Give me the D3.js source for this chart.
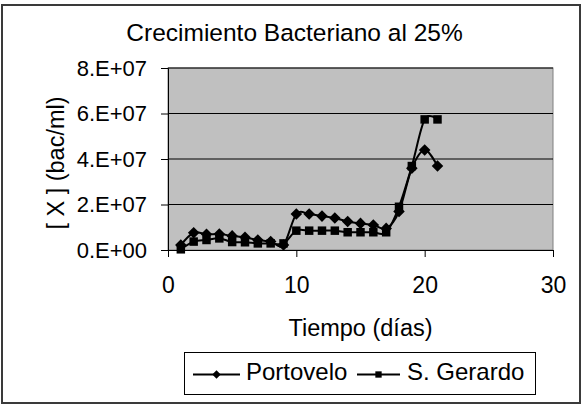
<!DOCTYPE html>
<html>
<head>
<meta charset="utf-8">
<script src="https://cdn.jsdelivr.net/npm/d3@7"></script>
<style>
  body { margin: 0; background: #fff; }
  svg { display: block; font-family: "Liberation Sans", Arial, sans-serif; }
</style>
</head>
<body>
<svg id="chart" width="582" height="405"></svg>
<script>
const days = [1,2,3,4,5,6,7,8,9,10,11,12,13,14,15,16,17,18,19,20,21];
const portovelo = [0.22e7,0.76e7,0.69e7,0.70e7,0.62e7,0.56e7,0.44e7,0.37e7,0.22e7,1.58e7,1.58e7,1.49e7,1.41e7,1.25e7,1.17e7,1.10e7,0.95e7,1.69e7,3.59e7,4.40e7,3.69e7];
const gerardo = [0.03e7,0.37e7,0.44e7,0.51e7,0.35e7,0.34e7,0.29e7,0.29e7,0.29e7,0.85e7,0.85e7,0.85e7,0.85e7,0.78e7,0.78e7,0.78e7,0.78e7,1.90e7,3.69e7,5.74e7,5.74e7];
const xTicks = [0,10,20,30];
const yTicks = [0,2e7,4e7,6e7,8e7];
const yTickLabels = ["0.E+00","2.E+07","4.E+07","6.E+07","8.E+07"];
const seriesNames = ["Portovelo","S. Gerardo"];
const title = "Crecimiento Bacteriano al 25%";
const xTitle = "Tiempo (días)";
const yTitle = "[ X ] (bac/ml)";

const svg = d3.select("#chart");
const L = 168, R = 553, T = 68, B = 250;
const x = d3.scaleLinear().domain([0,30]).range([L,R]);
const y = d3.scaleLinear().domain([0,8e7]).range([B,T]);
const FONT = "Liberation Sans, Arial, sans-serif";

// outer border
svg.append("rect").attr("x",2).attr("y",5).attr("width",578).attr("height",398)
  .attr("fill","#fff").attr("stroke","#3a3a3a").attr("stroke-width",2);

// plot area
svg.append("rect").attr("x",L).attr("y",T).attr("width",R-L).attr("height",B-T)
  .attr("fill","#c0c0c0").attr("stroke","#808080").attr("stroke-width",1);

// gridlines
svg.append("g").selectAll("line").data(yTicks.slice(1)).join("line")
  .attr("x1",L).attr("x2",R).attr("y1",d=>y(d)).attr("y2",d=>y(d))
  .attr("stroke","#000").attr("stroke-width",1);

// y axis
const yAxis = d3.axisLeft(y).tickValues(yTicks).tickSize(7).tickPadding(14)
  .tickFormat((d,i)=>yTickLabels[i]);
const gy = svg.append("g").attr("transform",`translate(${L},0)`).call(yAxis);
gy.select(".domain").attr("stroke","#000");
gy.selectAll(".tick line").attr("stroke","#000");
gy.selectAll("text").attr("font-size",22).attr("fill","#000").attr("font-family",FONT);

// x axis
const xAxis = d3.axisBottom(x).tickValues(xTicks).tickSize(7).tickPadding(20).tickFormat(d3.format("d"));
const gx = svg.append("g").attr("transform",`translate(0,${B})`).call(xAxis);
gx.select(".domain").attr("stroke","#000");
gx.selectAll(".tick line").attr("stroke","#000");
gx.selectAll("text").attr("font-size",23).attr("fill","#000").attr("font-family",FONT);

// titles
svg.append("text").attr("x",294.5).attr("y",41).attr("text-anchor","middle")
  .attr("font-size",24.5).text(title);
svg.append("text").attr("x",360.5).attr("y",336).attr("text-anchor","middle")
  .attr("font-size",23.5).text(xTitle);
svg.append("text").attr("transform",`translate(64,${(T+B)/2 + 4}) rotate(-90)`)
  .attr("text-anchor","middle").attr("font-size",23.5).text(yTitle);

// lines
const curve = d3.curveCardinal.tension(0);
const line = d3.line().x(d=>x(d[0])).y(d=>y(d[1])).curve(curve);
const diamond = d3.symbol().type(d3.symbolDiamond2).size(85);
const square = d3.symbol().type(d3.symbolSquare).size(72);

const sP = days.map((d,i)=>[d,portovelo[i]]);
const sG = days.map((d,i)=>[d,gerardo[i]]);

svg.append("path").datum(sG).attr("d",line).attr("fill","none").attr("stroke","#000").attr("stroke-width",2);
svg.append("path").datum(sP).attr("d",line).attr("fill","none").attr("stroke","#000").attr("stroke-width",2);
svg.append("g").selectAll("path").data(sG).join("path")
  .attr("transform",d=>`translate(${x(d[0])},${y(d[1])})`).attr("d",square).attr("fill","#000");
svg.append("g").selectAll("path").data(sP).join("path")
  .attr("transform",d=>`translate(${x(d[0])},${y(d[1])})`).attr("d",diamond).attr("fill","#000");

// legend
svg.append("rect").attr("x",184.5).attr("y",352.5).attr("width",351).attr("height",42)
  .attr("fill","#fff").attr("stroke","#000").attr("stroke-width",1);
const lg = [
  {name:seriesNames[0], x1:193, x2:240, sym:d3.symbol().type(d3.symbolDiamond2).size(45), tx:246},
  {name:seriesNames[1], x1:357, x2:400, sym:d3.symbol().type(d3.symbolSquare).size(40), tx:407}
];
lg.forEach(l=>{
  svg.append("line").attr("x1",l.x1).attr("x2",l.x2).attr("y1",374.5).attr("y2",374.5)
    .attr("stroke","#000").attr("stroke-width",2);
  svg.append("path").attr("transform",`translate(${(l.x1+l.x2)/2},374.5)`)
    .attr("d",l.sym).attr("fill","#000");
  svg.append("text").attr("x",l.tx).attr("y",380).attr("font-size",24).text(l.name);
});
</script>
</body>
</html>
